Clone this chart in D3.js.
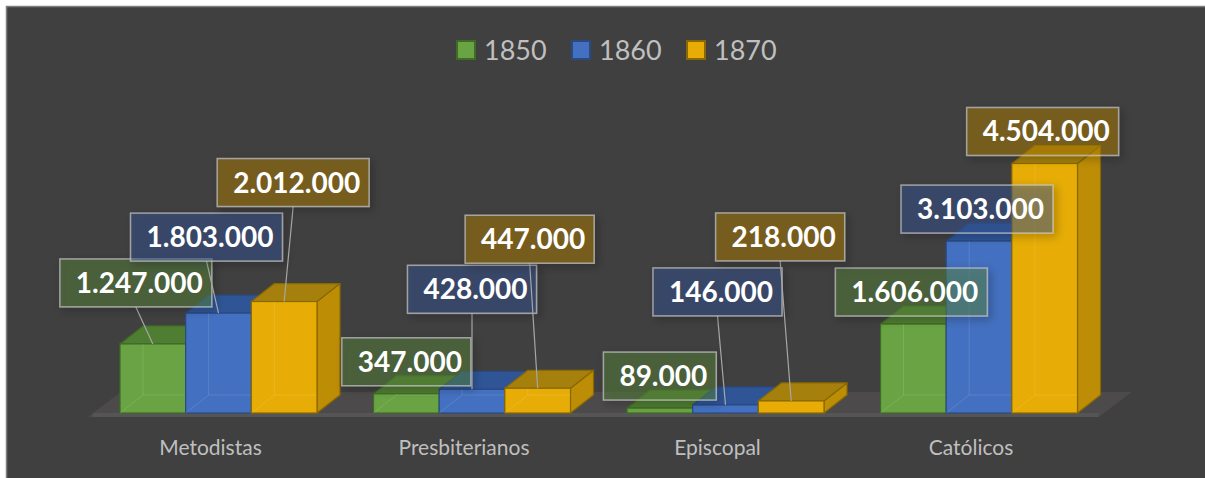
<!DOCTYPE html>
<html>
<head>
<meta charset="utf-8">
<script src="https://cdn.jsdelivr.net/npm/d3@7"></script>
<style>
  body { margin: 0; background: #fff; }
  svg { display: block; }
</style>
</head>
<body>
<div id="chart-area"></div>
<script>
// Data
let categories = ['Metodistas', 'Presbiterianos', 'Episcopal', 'Católicos'];
let years = ['1850', '1860', '1870'];
let values1850 = [1247000, 347000, 89000, 1606000];
let values1860 = [1803000, 428000, 146000, 3103000];
let values1870 = [2012000, 447000, 218000, 4504000];
let seriesValues = [values1850, values1860, values1870];

// Colors per series: front, side, top, border, label box
let colors = [
  { front: '#69a343', side: '#568a35', top: '#4f7d31', stroke: '#3f6b25', box: '#5b8b3b' },
  { front: '#4370c0', side: '#375fa6', top: '#2f5597', stroke: '#2a4a80', box: '#3a5999' },
  { front: '#e7ad06', side: '#bd8d06', top: '#a5800c', stroke: '#8a6800', box: '#b88604' }
];

// Manually placed label boxes: offset of box center from bar front-top center
let labelShift = [
  [[-17, -61], [0, -32], [0, -32], [-2, -32]],
  [[-12, -76], [0, -100], [-8, -113], [-2, -32]],
  [[9, -119], [-8, -149], [-11, -164], [-2, -32]]
];

let W = 1205, H = 478;
let depthX = 23, depthY = 18;

let svg = d3.select('#chart-area').append('svg')
  .attr('width', W)
  .attr('height', H);

let defs = svg.append('defs');
let shadow = defs.append('filter').attr('id', 'shadow')
  .attr('x', '-30%').attr('y', '-40%').attr('width', '160%').attr('height', '180%');
shadow.append('feDropShadow')
  .attr('dx', 3).attr('dy', 3).attr('stdDeviation', 4)
  .attr('flood-color', '#000').attr('flood-opacity', 0.45);

// Background
svg.append('rect')
  .attr('x', 6.5).attr('y', 6.5)
  .attr('width', W).attr('height', H)
  .attr('fill', '#404040')
  .attr('stroke', '#7f7f7f')
  .attr('stroke-width', 1.5);

// Scales
let x = d3.scaleBand()
  .domain(categories)
  .range([91.75, 1105.75])
  .paddingInner(0.2229)
  .paddingOuter(0.11145);

let xs = d3.scaleBand().domain(years).range([0, x.bandwidth()]);

let y = d3.scaleLinear().domain([0, 5000000]).range([413, 136]);

// Floor
let r = x.range();
let y0 = y(0);
svg.append('polygon')
  .attr('points', [
    [r[0] - 4, y0 + 4], [r[1] - 7, y0 + 4],
    [r[1] - 7 + 33, y0 - 21], [r[0] - 4 + 33, y0 - 21]
  ].map(p => p.join(',')).join(' '))
  .attr('fill', '#4c4a4a');
svg.append('rect')
  .attr('x', r[0] - 4 + 5).attr('y', y0)
  .attr('width', r[1] - r[0] - 8).attr('height', 4)
  .attr('fill', '#555555');

// Bars
categories.forEach((c, ci) => {
  years.forEach((yr, si) => {
    let v = seriesValues[si][ci];
    let bx = x(c) + xs(yr);
    let bw = xs.bandwidth();
    let top = y(v);
    let bottom = y(0);
    let col = colors[si];
    let g = svg.append('g').attr('class', 'bar');

    let poly = pts => pts.map(p => p.join(',')).join(' ');

    // side
    g.append('polygon')
      .attr('points', poly([[bx + bw, top], [bx + bw + depthX, top - depthY],
        [bx + bw + depthX, bottom - depthY], [bx + bw, bottom]]))
      .attr('fill', col.side)
      .attr('stroke', col.stroke).attr('stroke-width', 1.2)
      .attr('stroke-linejoin', 'round');
    // top
    g.append('polygon')
      .attr('points', poly([[bx, top], [bx + bw, top],
        [bx + bw + depthX, top - depthY], [bx + depthX, top - depthY]]))
      .attr('fill', col.top)
      .attr('stroke', col.stroke).attr('stroke-width', 1.2)
      .attr('stroke-linejoin', 'round');
    // front
    g.append('rect')
      .attr('x', bx).attr('y', top)
      .attr('width', bw).attr('height', bottom - top)
      .attr('fill', col.front)
      .attr('stroke', col.stroke).attr('stroke-width', 1.2);
    // back edges seen through the glass
    let h = bottom - top;
    if (h > depthY) {
      g.append('path')
        .attr('d', `M${bx + depthX},${top}V${bottom - depthY}H${bx + bw}` +
          `M${bx},${bottom}L${bx + depthX},${bottom - depthY}`)
        .attr('fill', 'none')
        .attr('stroke', '#ffffff')
        .attr('stroke-opacity', 0.12)
        .attr('stroke-width', 1);
    }
  });
});

// Category labels
svg.selectAll('.cat-label')
  .data(categories)
  .enter()
  .append('text')
  .attr('class', 'cat-label')
  .attr('x', d => x(d) + x.bandwidth() / 2 - 8)
  .attr('y', 455)
  .attr('text-anchor', 'middle')
  .attr('fill', '#bfbfbf')
  .style('font-family', 'Lato, "Open Sans", sans-serif')
  .style('font-size', '21px')
  .text(d => d);

// Data labels with leader lines
let fmt = v => d3.format(',')(v).replace(/,/g, '.');
let labelLayer = svg.append('g');
years.forEach((yr, si) => {
  categories.forEach((c, ci) => {
    let v = seriesValues[si][ci];
    let cx = x(c) + xs(yr) + xs.bandwidth() / 2;
    let top = y(v);
    let bcx = cx + labelShift[si][ci][0];
    let bcy = top + labelShift[si][ci][1];
    let g = labelLayer.append('g');

    let line = g.append('line');
    let rect = g.append('rect');
    let t = g.append('text')
      .attr('fill', '#ffffff')
      .style('font-family', 'Lato, "Open Sans", sans-serif')
      .style('font-weight', 'bold')
      .style('font-size', '28px')
      .text(fmt(v));
    let tw = t.node().getComputedTextLength();
    let bw = tw + 25, bh = 48;
    let bx = bcx - bw / 2, by = bcy - bh / 2;

    if (top - (by + bh) > 12) {
      line.attr('x1', bcx).attr('y1', by + bh)
        .attr('x2', cx).attr('y2', top)
        .attr('stroke', '#a6a6a6').attr('stroke-width', 1.2);
    } else {
      line.remove();
    }
    rect.attr('x', bx).attr('y', by)
      .attr('width', bw).attr('height', bh)
      .attr('fill', colors[si].box)
      .attr('fill-opacity', 0.42)
      .attr('stroke', '#c8c8c8')
      .attr('stroke-opacity', 0.7)
      .attr('stroke-width', 1.5)
      .attr('filter', 'url(#shadow)');
    t.attr('x', bx + bw - 9)
      .attr('y', by + 34)
      .attr('text-anchor', 'end');
  });
});

// Legend
let legend = svg.append('g').attr('class', 'legend');
years.forEach((yr, si) => {
  let lx = 457 + si * 115;
  legend.append('rect')
    .attr('x', lx).attr('y', 41)
    .attr('width', 18).attr('height', 18)
    .attr('fill', colors[si].front)
    .attr('stroke', colors[si].stroke)
    .attr('stroke-width', 2);
  legend.append('text')
    .attr('x', lx + 27).attr('y', 60)
    .attr('fill', '#bfbfbf')
    .style('font-family', 'Lato, "Open Sans", sans-serif')
    .style('font-size', '27px')
    .text(yr);
});
</script>
</body>
</html>
